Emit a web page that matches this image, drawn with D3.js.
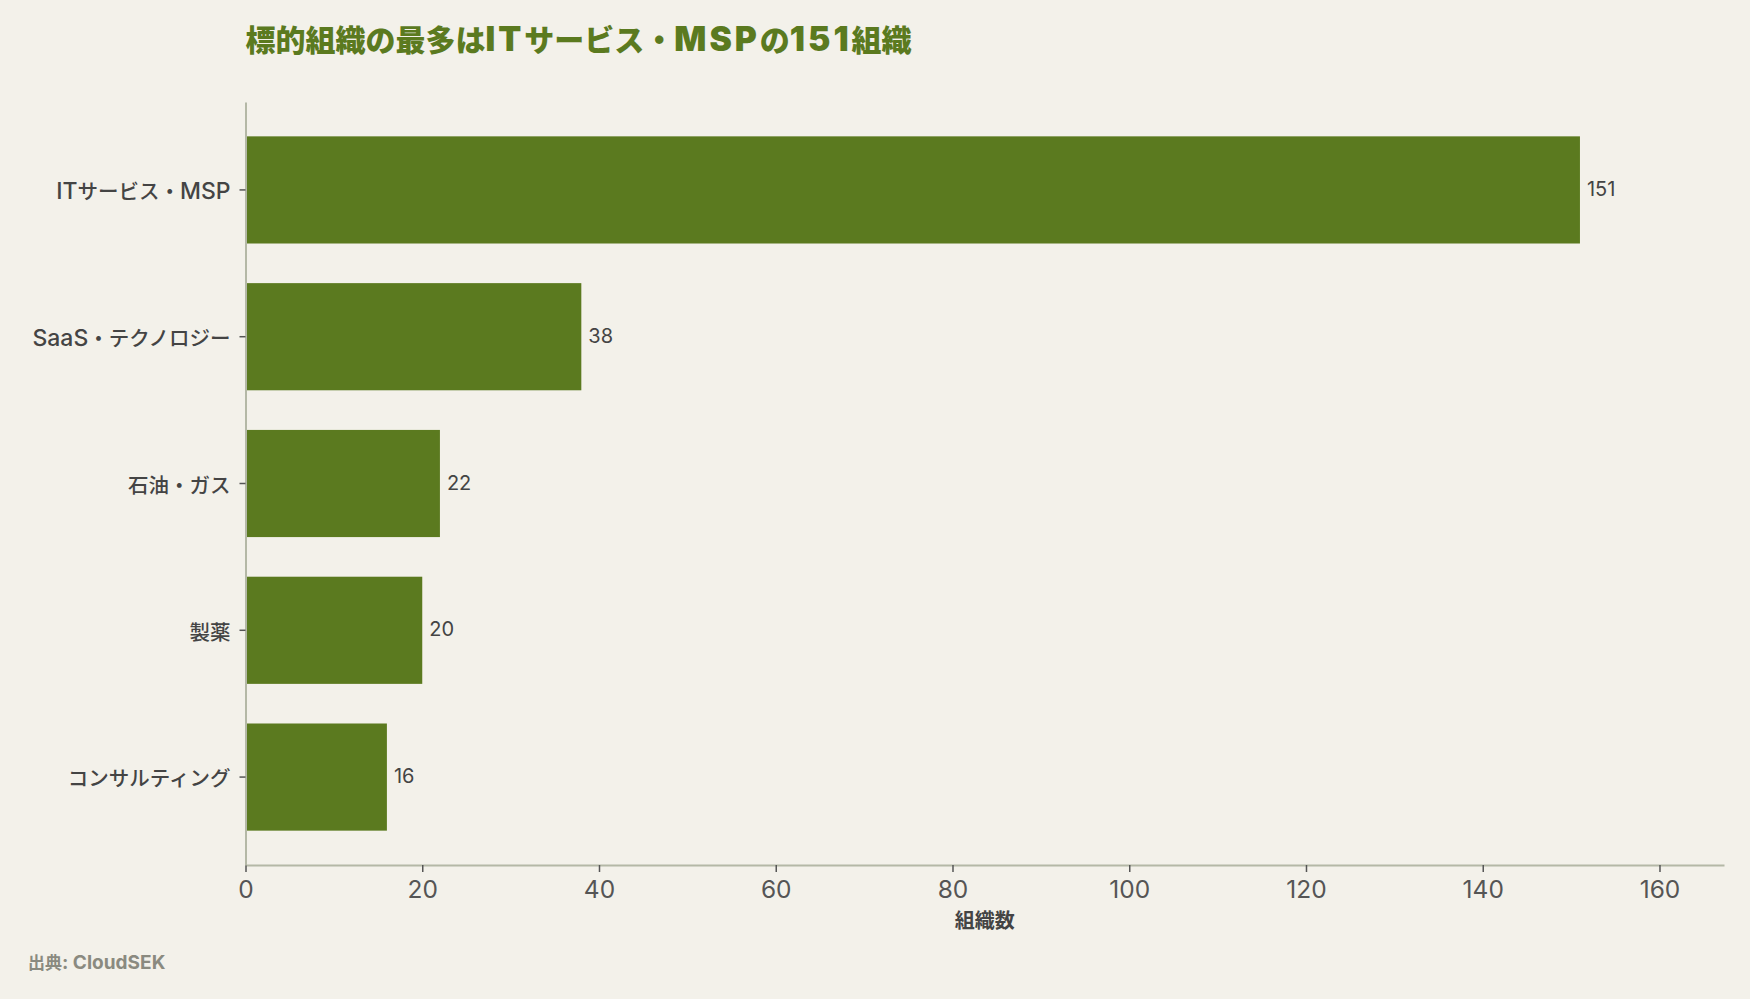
<!DOCTYPE html>
<html>
<head>
<meta charset="utf-8">
<script src="https://cdn.jsdelivr.net/npm/d3@7"></script>
<style>
    html, body { margin: 0; padding: 0; background: #f3f1ea; }
    svg { display: block; font-family: "Noto Sans CJK JP", sans-serif; }
    .axis .domain { stroke: #b4b8a6; stroke-width: 2; }
    .axis .tick line { stroke: #555; stroke-width: 1.5; }
</style>
</head>
<body>
<svg id="chart"></svg>
<script>
// data
const categories = ["ITサービス・MSP", "SaaS・テクノロジー", "石油・ガス", "製薬", "コンサルティング"];
const counts = [151, 38, 22, 20, 16];
const xTicks = [0, 20, 40, 60, 80, 100, 120, 140, 160];

const titleText = "標的組織の最多はITサービス・MSPの151組織";
const xTitle = "組織数";
const sourceText = "出典: CloudSEK";

var width = 1750;
var height = 999;
var margin = { top: 102, right: 26, bottom: 134, left: 245.5 };
var latinFont = "Inter, sans-serif";
var latinScale = 1.12; // latin glyphs in the reference sit larger than the kana

// split a text node into latin / japanese runs so latin can get its own font and size
function mixText(sel, baseSize, spacing) {
    sel.each(function () {
        var t = d3.select(this);
        var s = t.text();
        t.text(null);
        var runs = s.match(/[\x20-\x7E]+|[^\x20-\x7E]+/g) || [];
        runs.forEach(function (r) {
            var ts = t.append("tspan").text(r);
            if (/^[\x20-\x7E]/.test(r)) {
                ts.attr("font-family", latinFont)
                  .attr("font-size", baseSize * latinScale);
                if (spacing) ts.attr("letter-spacing", spacing);
            }
        });
    });
}

var svg = d3.select("#chart")
    .attr("width", width)
    .attr("height", height);

svg.append("rect")
    .attr("width", width)
    .attr("height", height)
    .attr("fill", "#f3f1ea");

var x = d3.scaleLinear()
    .domain([0, 167.3])
    .range([margin.left, width - margin.right]);

var y = d3.scaleBand()
    .domain(categories)
    .range([margin.top, height - margin.bottom])
    .paddingInner(0.27)
    .paddingOuter(0.234);

// bars
svg.selectAll(".bar")
    .data(categories)
    .enter()
    .append("rect")
    .attr("class", "bar")
    .attr("x", x(0))
    .attr("y", d => y(d))
    .attr("width", (d, i) => x(counts[i]) - x(0))
    .attr("height", y.bandwidth())
    .attr("fill", "#5b7a1f");

// value labels
svg.selectAll(".value")
    .data(categories)
    .enter()
    .append("text")
    .attr("class", "value")
    .attr("x", (d, i) => x(counts[i]) + 7)
    .attr("y", d => y(d) + y.bandwidth() / 2)
    .attr("dy", "0.3em")
    .attr("font-family", latinFont)
    .attr("font-size", 20)
    .attr("fill", "#444")
    .text((d, i) => counts[i]);

// x axis
var xAxis = svg.append("g")
    .attr("class", "axis")
    .attr("transform", `translate(0,${height - margin.bottom})`)
    .call(d3.axisBottom(x).tickValues(xTicks).tickSize(7).tickSizeOuter(0).tickPadding(9));

xAxis.selectAll("text")
    .attr("font-size", 24.5)
    .attr("font-family", latinFont)
    .attr("fill", "#555");

// y axis
var yAxis = svg.append("g")
    .attr("class", "axis")
    .attr("transform", `translate(${margin.left},0)`)
    .call(d3.axisLeft(y).tickSize(6).tickSizeOuter(0).tickPadding(9));

yAxis.selectAll("text")
    .attr("font-size", 20.5)
    .attr("font-weight", 500)
    .attr("font-family", "Noto Sans CJK JP, sans-serif")
    .attr("dy", "0.45em")
    .attr("fill", "#444")
    .call(mixText, 20.5);

// title
svg.append("text")
    .attr("x", margin.left)
    .attr("y", 51)
    .attr("font-size", 30)
    .attr("font-weight", 900)
    .attr("fill", "#5b7a1f")
    .text(titleText)
    .call(mixText, 30, 3);

// x axis title
svg.append("text")
    .attr("x", (x.range()[0] + x.range()[1]) / 2)
    .attr("y", 928)
    .attr("text-anchor", "middle")
    .attr("font-size", 20)
    .attr("font-weight", "bold")
    .attr("fill", "#444")
    .text(xTitle);

// source note
svg.append("text")
    .attr("x", 28)
    .attr("y", 969)
    .attr("font-size", 17)
    .attr("font-weight", "bold")
    .attr("fill", "#8a8a80")
    .text(sourceText)
    .call(mixText, 17);
</script>
</body>
</html>
